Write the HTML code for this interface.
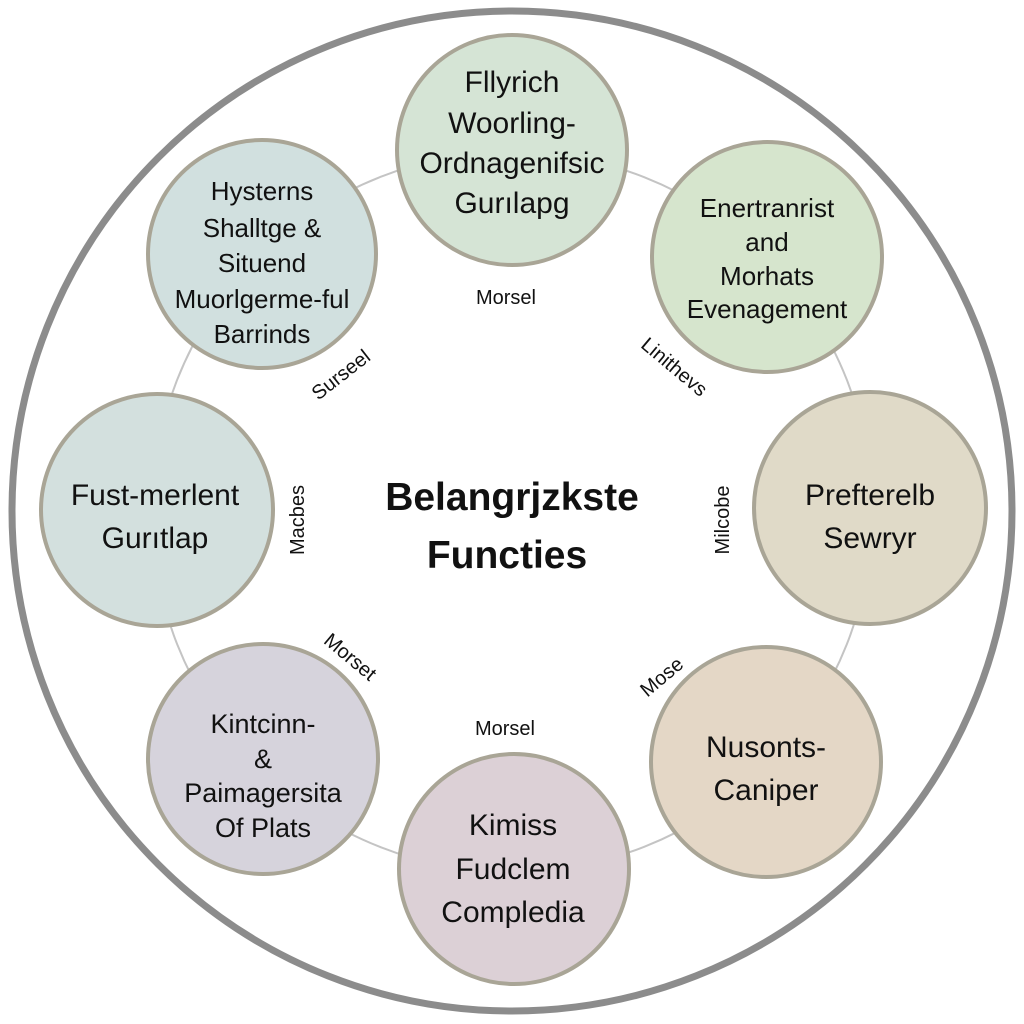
<!DOCTYPE html>
<html><head><meta charset="utf-8"><style>
html,body{margin:0;padding:0;background:#fff;}
svg{display:block;}
text{font-family:"Liberation Sans",sans-serif;fill:#111;text-anchor:middle;}
</style></head><body>
<svg width="1024" height="1024" viewBox="0 0 1024 1024">
<circle cx="512" cy="511" r="500" fill="#fff" stroke="#8c8c8c" stroke-width="7"/>
<circle cx="512" cy="512" r="360" fill="none" stroke="#c4c4c4" stroke-width="2"/>
<g stroke="#a9a596" stroke-width="4">
<circle cx="512" cy="150" r="115" fill="#d5e4d5"/>
<circle cx="262" cy="254" r="114" fill="#d1e0df"/>
<circle cx="767" cy="257" r="115" fill="#d6e5cd"/>
<circle cx="157" cy="510" r="116" fill="#d3e0de"/>
<circle cx="870" cy="508" r="116" fill="#e0dac8"/>
<circle cx="263" cy="759" r="115" fill="#d6d3dc"/>
<circle cx="514" cy="869" r="115" fill="#dcd0d6"/>
<circle cx="766" cy="762" r="115" fill="#e4d7c6"/>
</g>
<g font-size="30">
<text x="512" y="92">Fllyrich</text>
<text x="512" y="133">Woorling-</text>
<text x="512" y="173">Ordnagenifsic</text>
<text x="512" y="213">Gurılapg</text>
</g>
<g font-size="26">
<text x="262" y="200">Hysterns</text>
<text x="262" y="237">Shalltge &amp;</text>
<text x="262" y="272">Situend</text>
<text x="262" y="308">Muorlgerme-ful</text>
<text x="262" y="343">Barrinds</text>
</g>
<g font-size="26">
<text x="767" y="217">Enertranrist</text>
<text x="767" y="251">and</text>
<text x="767" y="285">Morhats</text>
<text x="767" y="318">Evenagement</text>
</g>
<g font-size="30">
<text x="155" y="505">Fust-merlent</text>
<text x="155" y="548">Gurıtlap</text>
<text x="870" y="505">Prefterelb</text>
<text x="870" y="548">Sewryr</text>
</g>
<g font-size="27">
<text x="263" y="733">Kintcinn-</text>
<text x="263" y="768">&amp;</text>
<text x="263" y="802">Paimagersita</text>
<text x="263" y="837">Of Plats</text>
</g>
<g font-size="30">
<text x="766" y="757">Nusonts-</text>
<text x="766" y="800">Caniper</text>
<text x="513" y="835">Kimiss</text>
<text x="513" y="879">Fudclem</text>
<text x="513" y="922">Compledia</text>
</g>
<g font-size="39" font-weight="bold">
<text x="512" y="510">Belangrjzkste</text>
<text x="507" y="568">Functies</text>
</g>
<g font-size="20">
<text x="506" y="304">Morsel</text>
<text x="505" y="735">Morsel</text>
<text transform="translate(345,380) rotate(-38)">Surseel</text>
<text transform="translate(670,372) rotate(40)">Linithevs</text>
<text transform="translate(304,520) rotate(-90)">Macbes</text>
<text transform="translate(729,520) rotate(-90)">Milcobe</text>
<text transform="translate(346,662) rotate(40)">Morset</text>
<text transform="translate(666,682) rotate(-40)">Mose</text>
</g>
</svg>
</body></html>
